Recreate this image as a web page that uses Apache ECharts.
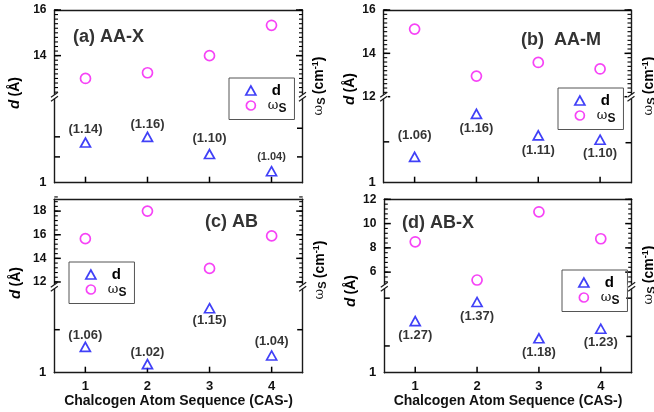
<!DOCTYPE html>
<html>
<head>
<meta charset="utf-8">
<script src="https://cdn.jsdelivr.net/npm/echarts@6/dist/echarts.min.js"></script>
<style>
  html, body { margin: 0; padding: 0; background: #fff; }
  #chart { width: 654px; height: 412px; }
</style>
</head>
<body>
<div id="chart"></div>
<script>
// chalcogen atom sequence
const casX = [1, 2, 3, 4]

// interlayer distance d (Å) and shear mode ωs (cm-1) per stacking
const dAAX = [1.14, 1.16, 1.10, 1.04]
const wsAAX = [13.0, 13.25, 14.0, 15.33]
const dAAM = [1.06, 1.16, 1.11, 1.10]
const wsAAM = [15.12, 12.95, 13.58, 13.28]
const dAB = [1.06, 1.02, 1.15, 1.04]
const wsAB = [15.67, 18.0, 13.15, 15.9]
const dABX = [1.27, 1.37, 1.18, 1.23]
const wsABX = [8.5, 5.35, 10.97, 8.75]

// tick labels
const wsLabelsAAX = [14, 16]
const wsLabelsAAM = [12, 14, 16]
const wsLabelsAB = [12, 14, 16, 18]
const wsLabelsABX = [6, 8, 10, 12]
const dLabels = [1]

const axisColor = '#1a1a1a'
const blue = '#1010f5'
const magenta = '#f414f4'
const font = 'Liberation Sans, Arial, sans-serif'

const panels = [
  { title: '(a) AA-X', d: dAAX, ws: wsAAX, wsLabels: wsLabelsAAX,
    left: 54.5, right: 302.5, top: 10, brk: 96.7, bottom: 182.7,
    wsMin: 12.2, wsMax: 16, wsStep: 0.2, dMax: 1.3, dTicksL: [1.09, 1.16], dTicksR: [1.09, 1.19],
    side: ['top', 'top', 'top', 'top'], gap: [1, 1, 4, 3], lsize: [13, 13, 13, 11],
    legend: [229, 78], titleXY: [73, 37], yl: [15, 93], yr: [319, 86], showX: false },
  { title: '(b)  AA-M', d: dAAM, ws: wsAAM, wsLabels: wsLabelsAAM,
    left: 383.7, right: 631, top: 10, brk: 96.7, bottom: 182.7,
    wsMin: 12, wsMax: 16, wsStep: 0.2, dMax: 1.2, dTicksL: [1.095], dTicksR: [1.093],
    side: ['top', 'bottom', 'bottom', 'bottom'], gap: [10, 3, 3, 2], lsize: [13, 13, 13, 13],
    legend: [558, 88], titleXY: [521, 40], yl: [350, 89], yr: [649, 86], showX: false },
  { title: '(c) AB', d: dAB, ws: wsAB, wsLabels: wsLabelsAB,
    left: 54.3, right: 302.7, top: 199.3, brk: 286.7, bottom: 372.7,
    wsMin: 11.6, wsMax: 19, wsStep: 0.4, dMax: 1.2, dTicksL: [1.1], dTicksR: [1.1],
    side: ['top', 'top', 'bottom', 'top'], gap: [0, 0, 0, 2], lsize: [13, 13, 13, 13],
    legend: [69, 262], titleXY: [205, 222], yl: [16, 283], yr: [320, 270], showX: true },
  { title: '(d) AB-X', d: dABX, ws: wsABX, wsLabels: wsLabelsABX,
    left: 384.3, right: 631.7, top: 199.3, brk: 286.7, bottom: 372.7,
    wsMin: 4.8, wsMax: 12, wsStep: 0.4, dMax: 1.45, dTicksL: [1.14, 1.39], dTicksR: [1.19, 1.39],
    side: ['bottom', 'bottom', 'bottom', 'bottom'], gap: [3, 3, 2, 2], lsize: [13, 13, 13, 13],
    legend: [562, 270], titleXY: [402, 223], yl: [351, 291], yr: [649, 275], showX: true }
]

const chart = echarts.init(document.getElementById('chart'))

const grid = [], xAxis = [], yAxis = [], series = [], legend = [], graphic = []
const lineStyle = { color: axisColor, width: 1.4 }
const labelFont = { color: '#111', fontFamily: font, fontWeight: 'bold', fontSize: 12 }

// inward ticks drawn as short strokes at axis coordinates: item = [x, y, dx, dy, width]
const tickSeries = (xi, yi, items) => ({
  type: 'custom', xAxisIndex: xi, yAxisIndex: yi, silent: true, clip: false, z: 3,
  data: items,
  renderItem: (params, api) => {
    const pt = api.coord([api.value(0), api.value(1)])
    return {
      type: 'line',
      shape: { x1: pt[0], y1: pt[1], x2: pt[0] + api.value(2), y2: pt[1] + api.value(3) },
      style: { stroke: '#000', lineWidth: api.value(4) }
    }
  }
})

panels.forEach((p, i) => {
  const width = p.right - p.left
  // upper grid (ωs) and lower grid (d), stacked at the break
  grid.push({ left: p.left, top: p.top, width: width, height: p.brk - p.top, outerBoundsMode: 'none' })
  grid.push({ left: p.left, top: p.brk, width: width, height: p.bottom - p.brk, outerBoundsMode: 'none' })
  const gu = 2 * i, gl = 2 * i + 1

  const xBase = xAxis.length
  xAxis.push({
    gridIndex: gu, type: 'value', position: 'top', min: 0.5, max: 4.5,
    axisLine: { show: true, lineStyle }, axisTick: { show: false },
    axisLabel: { show: false }, splitLine: { show: false }
  })
  xAxis.push({
    gridIndex: gl, type: 'value', position: 'bottom', min: 0.5, max: 4.5,
    axisLine: { show: true, lineStyle }, axisTick: { show: false },
    axisLabel: { show: p.showX, customValues: casX, margin: 7, ...labelFont, fontSize: 13 },
    splitLine: { show: false },
    name: p.showX ? 'Chalcogen Atom Sequence (CAS-)' : '',
    nameLocation: 'middle', nameGap: 21,
    nameTextStyle: { ...labelFont, fontSize: 14 }
  })

  const yBase = yAxis.length
  yAxis.push({ type: 'value', gridIndex: gu, position: 'left', min: p.wsMin, max: p.wsMax,
    axisLine: { show: true, lineStyle }, axisTick: { show: false }, splitLine: { show: false },
    axisLabel: { customValues: p.wsLabels, margin: 8, ...labelFont } })
  yAxis.push({ type: 'value', gridIndex: gu, position: 'right', min: p.wsMin, max: p.wsMax,
    axisLine: { show: true, lineStyle }, axisTick: { show: false }, axisLabel: { show: false }, splitLine: { show: false } })
  yAxis.push({ type: 'value', gridIndex: gl, position: 'left', min: 1, max: p.dMax,
    axisLine: { show: true, lineStyle }, axisTick: { show: false }, splitLine: { show: false },
    axisLabel: { customValues: dLabels, margin: 8, ...labelFont, fontSize: 13 } })
  yAxis.push({ type: 'value', gridIndex: gl, position: 'right', min: 1, max: p.dMax,
    axisLine: { show: true, lineStyle }, axisTick: { show: false }, axisLabel: { show: false }, splitLine: { show: false } })

  // ticks of the ωs segment: minor every wsStep, major at labels
  const upTicks = []
  const nMinor = Math.round((p.wsMax - p.wsMin) / p.wsStep)
  for (let k = 0; k <= nMinor; k++) {
    const v = +(p.wsMin + k * p.wsStep).toFixed(3)
    upTicks.push([0.5, v, 3.5, 0, 1.1], [4.5, v, -3.5, 0, 1.1])
  }
  p.wsLabels.forEach((v) => upTicks.push([0.5, v, 6.5, 0, 1.5], [4.5, v, -6.5, 0, 1.5]))
  series.push(tickSeries(xBase, yBase, upTicks))
  // ticks of the d segment and of the category axis
  const lowTicks = []
  p.dTicksL.forEach((v) => lowTicks.push([0.5, v, 5.5, 0, 1.5]))
  p.dTicksR.forEach((v) => lowTicks.push([4.5, v, -5.5, 0, 1.5]))
  casX.forEach((x) => lowTicks.push([x, 1, 0, -6, 1.5]))
  series.push(tickSeries(xBase + 1, yBase + 2, lowTicks))

  series.push({
    type: 'scatter', name: 'ωs', xAxisIndex: xBase, yAxisIndex: yBase,
    data: casX.map((x, k) => [x, p.ws[k]]),
    symbol: 'circle', symbolSize: 10,
    itemStyle: { color: '#fff', borderColor: magenta, borderWidth: 1.7 },
    emphasis: { disabled: true }, z: 5
  })
  series.push({
    type: 'scatter', name: 'd', xAxisIndex: xBase + 1, yAxisIndex: yBase + 2,
    data: casX.map((x, k) => ({
      value: [x, p.d[k]],
      label: { position: p.side[k], distance: p.gap[k], fontSize: p.lsize[k] }
    })),
    symbol: 'triangle', symbolSize: [10, 9],
    itemStyle: { color: '#fff', borderColor: blue, borderWidth: 1.7 },
    label: {
      show: true, color: '#000', fontFamily: font, fontWeight: 'bold',
      formatter: (q) => '(' + q.value[1].toFixed(2) + ')'
    },
    emphasis: { disabled: true }, z: 5
  })

  legend.push({
    left: p.legend[0], top: p.legend[1], orient: 'vertical',
    borderColor: '#555', borderWidth: 1, padding: [5, 8, 5, 16], itemGap: 1,
    itemWidth: 10, itemHeight: 9, selectedMode: false,
    data: [
      { name: 'd', icon: 'triangle', itemStyle: { color: '#fff', borderColor: blue, borderWidth: 1.7 } },
      { name: 'ωs', icon: 'circle', itemStyle: { color: '#fff', borderColor: magenta, borderWidth: 1.7 } }
    ],
    formatter: (n) => n === 'd' ? '{b|d}' : '{w|ω}{s|S}',
    textStyle: {
      rich: {
        b: { fontFamily: font, fontWeight: 'bold', fontSize: 15, color: '#000', padding: [0, 0, 0, 11], height: 16 },
        w: { fontFamily: 'DejaVu Serif, serif', fontSize: 13, color: '#111', padding: [0, 0, 0, 7], height: 16 },
        s: { fontFamily: font, fontWeight: 'bold', fontSize: 12, color: '#111', padding: [6, 0, 0, 0] }
      }
    }
  })

  // panel title
  graphic.push({
    type: 'text', x: p.titleXY[0], y: p.titleXY[1], z: 100,
    style: { text: p.title, fill: '#333', font: 'bold 18px ' + font, verticalAlign: 'middle' }
  })
  // left axis title d (Å)
  graphic.push({
    type: 'text', x: p.yl[0], y: p.yl[1], rotation: Math.PI / 2, z: 100,
    style: {
      text: '{i|d} {n|(Å)}', align: 'center', verticalAlign: 'middle',
      rich: {
        i: { fontFamily: font, fontWeight: 'bold', fontStyle: 'italic', fontSize: 15, fill: '#000' },
        n: { fontFamily: font, fontWeight: 'bold', fontSize: 14, fill: '#000' }
      }
    }
  })
  // right axis title ωs (cm-1)
  graphic.push({
    type: 'text', x: p.yr[0], y: p.yr[1], rotation: Math.PI / 2, z: 100,
    style: {
      text: '{w|ω}{s|S} {n|(cm}{p|-1}{n|)}', align: 'center', verticalAlign: 'middle',
      rich: {
        w: { fontFamily: 'DejaVu Serif, serif', fontSize: 13, fill: '#111' },
        s: { fontFamily: font, fontWeight: 'bold', fontSize: 11, fill: '#111', padding: [6, 0, 0, 0] },
        n: { fontFamily: font, fontWeight: 'bold', fontSize: 14, fill: '#000' },
        p: { fontFamily: font, fontWeight: 'bold', fontSize: 9, fill: '#000', padding: [0, 0, 7, 0] }
      }
    }
  })
  // axis break marks
  ;[p.left, p.right].forEach((x) => {
    graphic.push({ type: 'rect', z: 100, shape: { x: x - 4, y: p.brk - 2, width: 8, height: 4 }, style: { fill: '#fff' } })
    graphic.push({ type: 'line', z: 101, shape: { x1: x - 3.5, y1: p.brk + 0.5, x2: x + 3.5, y2: p.brk - 4.5 }, style: { stroke: axisColor, lineWidth: 1.2 } })
    graphic.push({ type: 'line', z: 101, shape: { x1: x - 3.5, y1: p.brk + 4.5, x2: x + 3.5, y2: p.brk - 0.5 }, style: { stroke: axisColor, lineWidth: 1.2 } })
  })
})

chart.setOption({
  animation: false,
  backgroundColor: '#fff',
  grid, xAxis, yAxis, series, legend,
  graphic: { elements: graphic }
})
</script>
</body>
</html>
